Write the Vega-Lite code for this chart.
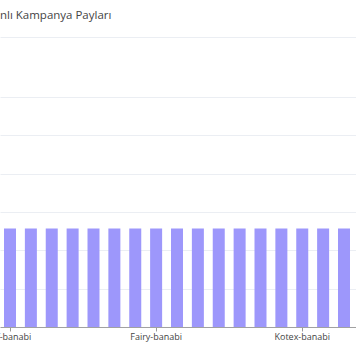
{
  "$schema": "https://vega.github.io/schema/vega-lite/v6.json",
  "autosize": {"type": "none"},
  "padding": {"top": 37, "left": 0, "right": 0, "bottom": 37},
  "background": "white",
  "title": {
    "text": "nlı Kampanya Payları",
    "anchor": "start",
    "frame": "group",
    "offset": 7,
    "baseline": "alphabetic",
    "font": "Open Sans",
    "fontSize": 11.5,
    "fontWeight": "normal",
    "color": "#444444"
  },
  "data": {
    "values": [
      {"kampanya": "Cif-banabi", "pay": 2.57},
      {"kampanya": "Clear-banabi", "pay": 2.57},
      {"kampanya": "Colgate-banabi", "pay": 2.57},
      {"kampanya": "Comfort-banabi", "pay": 2.57},
      {"kampanya": "Domestos-banabi", "pay": 2.57},
      {"kampanya": "Dove-banabi", "pay": 2.57},
      {"kampanya": "Elidor-banabi", "pay": 2.57},
      {"kampanya": "Fairy-banabi", "pay": 2.57},
      {"kampanya": "Finish-banabi", "pay": 2.57},
      {"kampanya": "Gillette-banabi", "pay": 2.57},
      {"kampanya": "Head & Shoulders-banabi", "pay": 2.57},
      {"kampanya": "Ipana-banabi", "pay": 2.57},
      {"kampanya": "Knorr-banabi", "pay": 2.57},
      {"kampanya": "Komili-banabi", "pay": 2.57},
      {"kampanya": "Kotex-banabi", "pay": 2.57},
      {"kampanya": "Lipton-banabi", "pay": 2.57},
      {"kampanya": "Lux-banabi", "pay": 2.57},
      {"kampanya": "Molfix-banabi", "pay": 2.57}
    ]
  },
  "width": {"step": 20.875},
  "height": 290,
  "mark": {"type": "bar", "color": "#9d97fb"},
  "encoding": {
    "x": {
      "field": "kampanya",
      "type": "nominal",
      "sort": null,
      "scale": {"paddingInner": 0.425, "paddingOuter": 0.1916},
      "axis": {
        "title": null,
        "values": ["Cif-banabi", "Fairy-banabi", "Kotex-banabi"],
        "labelAngle": 0,
        "labelFont": "Open Sans",
        "labelFontSize": 9,
        "labelColor": "#444444",
        "labelPadding": 2,
        "tickSize": 4,
        "tickColor": "#999999",
        "domainColor": "#a0a0a0",
        "grid": false
      }
    },
    "y": {
      "field": "pay",
      "type": "quantitative",
      "scale": {"domain": [0, 7.56], "nice": false, "zero": true},
      "axis": {
        "title": null,
        "labels": false,
        "ticks": false,
        "domain": false,
        "grid": true,
        "gridColor": "#ebeef3",
        "values": [1, 2, 3, 4, 5, 6, 7.56]
      }
    }
  },
  "config": {"view": {"stroke": null}}
}
